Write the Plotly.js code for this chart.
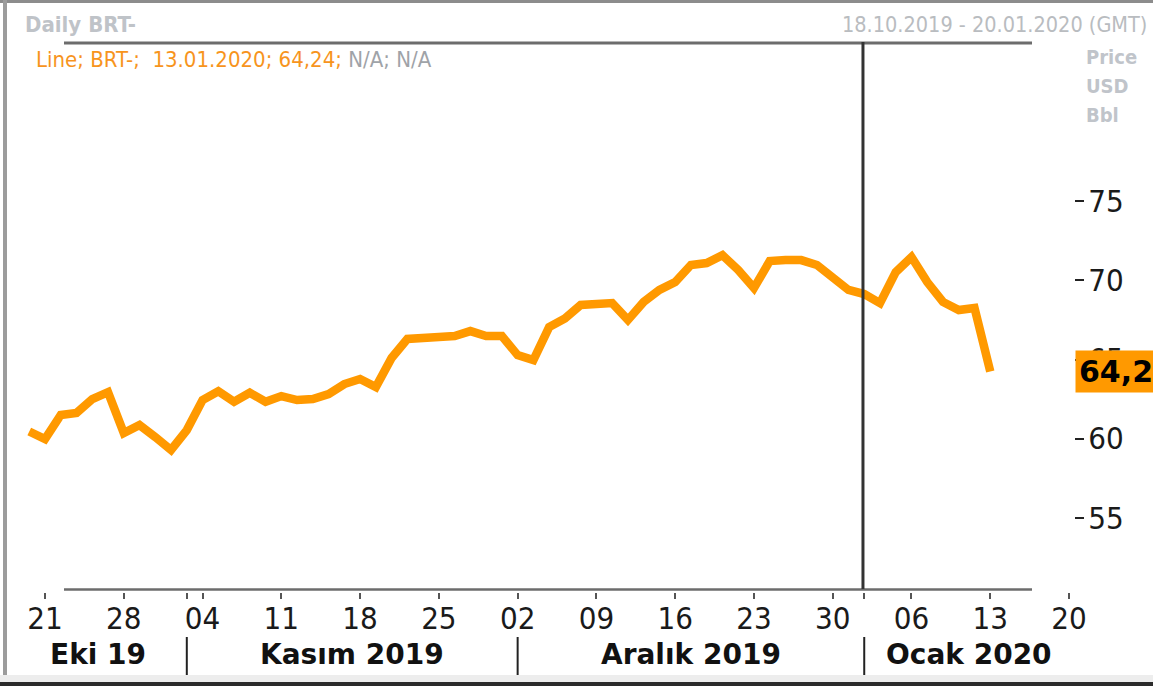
<!DOCTYPE html>
<html><head><meta charset="utf-8">
<script src="https://cdn.plot.ly/plotly-3.0.1.min.js"></script>
<style>html,body{margin:0;padding:0;background:#fff;overflow:hidden}#chart{width:1153px;height:686px}</style>
</head><body><div id="chart"></div>
<script>
// ---------------- data ----------------
const dates = [
 '2019-10-18','2019-10-21','2019-10-22','2019-10-23','2019-10-24','2019-10-25',
 '2019-10-28','2019-10-29','2019-10-30','2019-10-31','2019-11-01',
 '2019-11-04','2019-11-05','2019-11-06','2019-11-07','2019-11-08',
 '2019-11-11','2019-11-12','2019-11-13','2019-11-14','2019-11-15',
 '2019-11-18','2019-11-19','2019-11-20','2019-11-21','2019-11-22',
 '2019-11-25','2019-11-26','2019-11-27','2019-11-28','2019-11-29',
 '2019-12-02','2019-12-03','2019-12-04','2019-12-05','2019-12-06',
 '2019-12-09','2019-12-10','2019-12-11','2019-12-12','2019-12-13',
 '2019-12-16','2019-12-17','2019-12-18','2019-12-19','2019-12-20',
 '2019-12-23','2019-12-24','2019-12-25','2019-12-26','2019-12-27',
 '2019-12-30','2019-12-31','2020-01-01','2020-01-02','2020-01-03',
 '2020-01-06','2020-01-07','2020-01-08','2020-01-09','2020-01-10',
 '2020-01-13'
];
const prices = [
 60.45, 59.97, 61.49, 61.62, 62.50, 62.94,
 60.35, 60.86, 60.10, 59.28, 60.54,
 62.44, 63.00, 62.33, 62.90, 62.33,
 62.69, 62.44, 62.50, 62.82, 63.45,
 63.77, 63.26, 65.10, 66.30, 66.30,
 66.42, 66.49, 66.80, 66.49, 66.49,
 65.28, 64.97, 67.05, 67.60, 68.45,
 68.57, 68.57, 67.50, 68.64, 69.40,
 69.90, 70.98, 71.10, 71.60, 70.66,
 69.52, 71.23, 71.29, 71.29, 70.98,
 70.15, 69.40, 69.14, 68.57, 70.53,
 71.48, 69.90, 68.64, 68.13, 68.26,
 64.24
];
const futureDays = ['2020-01-14','2020-01-15','2020-01-16','2020-01-17','2020-01-20'];
const weekTicks = ['2019-10-21','2019-10-28','2019-11-04','2019-11-11','2019-11-18','2019-11-25',
 '2019-12-02','2019-12-09','2019-12-16','2019-12-23','2019-12-30','2020-01-06','2020-01-13','2020-01-20'];
const weekTickText = ['21','28','04','11','18','25','02','09','16','23','30','06','13','20'];
const monthStarts = ['2019-11-01','2019-12-02','2020-01-01'];
const monthLabels = ['Eki 19','Kasım 2019','Aralık 2019','Ocak 2020'];
const yTicks = [55,60,65,70,75];
const unitLabels = ['Price','USD','Bbl'];
const seriesName = 'BRT-';
const chartTitle = 'Daily BRT-';
const dateRangeText = '18.10.2019 - 20.01.2020 (GMT)';
const cursorDate = '2020-01-01';

// ---------------- layout helpers ----------------
const W = 1153, H = 686, L = 10, R = 1074, T = 42, B = 592;
const px2x = p => (p - L) / (R - L);
const py2y = p => (B - p) / (B - T);
const axisDays = dates.concat(futureDays);
const idx = d => axisDays.indexOf(d);
const xRange = [-1.222, 66.315];
const yRange = [50.30, 85.08];

const ORANGE = '#FF9900';
const REG = 'DejaVu Sans Condensed, DejaVu Sans, sans-serif';
const BOLD = 'DejaVu Sans, sans-serif';

const lastDate = dates[dates.length - 1].split('-').reverse().join('.');
const lastVal = prices[prices.length - 1].toFixed(2).replace('.', ',');

// tick values: weekly Mondays + month starts (unlabelled)
const tickVals = [], tickText = [];
weekTicks.forEach((d, i) => { tickVals.push(d); tickText.push(weekTickText[i]); });
monthStarts.forEach(d => { if (!weekTicks.includes(d)) { tickVals.push(d); tickText.push(' '); } });

const shapes = [];
function rectPx(x0, y0, x1, y1, color) {
  shapes.push({type: 'rect', xref: 'paper', yref: 'paper', x0: px2x(x0), x1: px2x(x1),
    y0: py2y(y0), y1: py2y(y1), fillcolor: color, line: {width: 0}, layer: 'above'});
}
function linePx(x0, y0, x1, y1, color, w) {
  shapes.push({type: 'line', xref: 'paper', yref: 'paper', x0: px2x(x0), x1: px2x(x1),
    y0: py2y(y0), y1: py2y(y1), line: {color: color, width: w}, layer: 'above'});
}
// window frame
rectPx(0, 0, W, 3, '#8c8c8c');
rectPx(3, 0, 7, 682, '#9c9c9c');
rectPx(0, 675, W, 682, '#ededed');
rectPx(0, 682, W, H, '#2b2b2b');
// header and footer rules
linePx(64, 43, 1032, 43, '#6c6c6c', 3);
linePx(64, 589.5, 1032, 589.5, '#6c6c6c', 2.5);
// cursor line
shapes.push({type: 'line', xref: 'x', yref: 'paper', x0: idx(cursorDate) - 0.08, x1: idx(cursorDate) - 0.08,
  y0: py2y(589), y1: py2y(42), line: {color: '#333333', width: 3}, layer: 'above'});
// month separators
monthStarts.forEach(d => {
  shapes.push({type: 'line', xref: 'x', yref: 'paper', x0: idx(d), x1: idx(d),
    y0: py2y(637), y1: py2y(675), line: {color: '#222222', width: 2}, layer: 'above'});
});

const annotations = [];
// title & range
annotations.push({xref: 'paper', yref: 'paper', x: px2x(23), y: py2y(24), xanchor: 'left', yanchor: 'middle',
  text: chartTitle, showarrow: false, font: {family: REG, size: 22, weight: 'bold', color: '#bfc3c8'}});
annotations.push({xref: 'paper', yref: 'paper', x: px2x(1149), y: py2y(24), xanchor: 'right', yanchor: 'middle',
  text: dateRangeText, showarrow: false, font: {family: REG, size: 21.5, color: '#b9bcc0'}});
// legend line
annotations.push({xref: 'paper', yref: 'paper', x: px2x(34), y: py2y(60), xanchor: 'left', yanchor: 'middle',
  text: '<span style="color:#F7941D">Line; ' + seriesName + ';&nbsp; ' + lastDate + '; ' + lastVal + ';</span> ' +
        '<span style="color:#9fa3a8">N/A; N/A</span>',
  showarrow: false, font: {family: REG, size: 22, color: '#F7941D'}});
// unit labels
unitLabels.forEach((t, i) => {
  annotations.push({xref: 'paper', yref: 'paper', x: px2x(1084), y: py2y(57 + i * 29), xanchor: 'left', yanchor: 'middle',
    text: t, showarrow: false, font: {family: REG, size: 20, weight: 'bold', color: '#c0c4ca'}});
});
// month labels
const bounds = [xRange[0]].concat(monthStarts.map(idx), [xRange[1]]);
monthLabels.forEach((t, i) => {
  annotations.push({xref: 'x', yref: 'paper', x: (bounds[i] + bounds[i + 1]) / 2, y: py2y(654), xanchor: 'center', yanchor: 'middle',
    text: t, showarrow: false, font: {family: BOLD, size: 28, weight: 'bold', color: '#111111'}});
});
// last value box
annotations.push({xref: 'paper', yref: 'y', x: px2x(1075), y: prices[prices.length - 1], xanchor: 'left', yanchor: 'middle',
  text: lastVal, showarrow: false, bgcolor: ORANGE, borderpad: 3,
  font: {family: BOLD, size: 30, weight: 'bold', color: '#000000'}});

const traces = [
  {x: axisDays, y: axisDays.map(() => null), type: 'scatter', mode: 'lines', hoverinfo: 'skip', showlegend: false},
  {x: dates, y: prices, type: 'scatter', mode: 'lines', name: seriesName,
   line: {color: ORANGE, width: 8.5, shape: 'linear'}, hoverinfo: 'x+y'}
];

const layout = {
  width: W, height: H,
  margin: {l: L, r: W - R, t: T, b: H - B, pad: 0},
  paper_bgcolor: '#ffffff', plot_bgcolor: '#ffffff',
  showlegend: false,
  xaxis: {type: 'category', categoryorder: 'array', categoryarray: axisDays, range: xRange,
    tickmode: 'array', tickvals: tickVals, ticktext: tickText,
    ticks: 'outside', ticklen: 6, tickwidth: 2, tickcolor: '#555555', ticklabelstandoff: -7,
    showline: false, showgrid: false, zeroline: false,
    tickfont: {family: REG, size: 31, color: '#1a1a1a'}},
  yaxis: {side: 'right', range: yRange, tickmode: 'array', tickvals: yTicks,
    ticks: 'outside', ticklen: 9, tickwidth: 2, tickcolor: '#222222', ticklabelstandoff: -2,
    showline: false, showgrid: false, zeroline: false,
    tickfont: {family: REG, size: 31, color: '#1a1a1a'}},
  shapes: shapes,
  annotations: annotations
};

Plotly.newPlot('chart', traces, layout, {displayModeBar: false, staticPlot: true});
</script>
</body></html>
